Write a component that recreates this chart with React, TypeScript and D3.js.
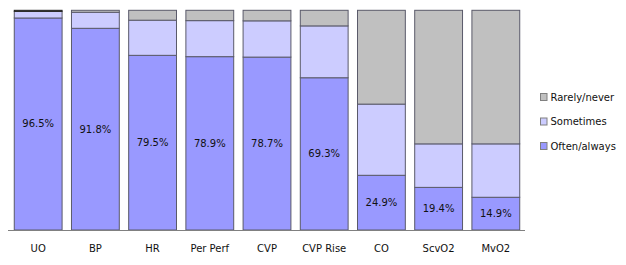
import React from "react";
import * as d3 from "d3";

const categories = ["UO", "BP", "HR", "Per Perf", "CVP", "CVP Rise", "CO", "ScvO2", "MvO2"];
const oftenAlways = [96.5, 91.8, 79.5, 78.9, 78.7, 69.3, 24.9, 19.4, 14.9];
const sometimes = [3.0, 7.3, 16.0, 16.4, 16.5, 23.6, 32.4, 19.8, 24.3];
const rarelyNever = [0.5, 0.9, 4.5, 4.7, 4.8, 7.1, 42.7, 60.8, 60.8];
const seriesNames = ["Often/always", "Sometimes", "Rarely/never"];
const seriesColors = ["#9999FF", "#CCCCFF", "#C0C0C0"];
const legendOrder = ["Rarely/never", "Sometimes", "Often/always"];

const W = 626;
const H = 265;
const FONT = "'DejaVu Sans', Verdana, sans-serif";

export default function App() {
  const x = d3
    .scaleBand<string>()
    .domain(categories)
    .range([9, 525])
    .paddingInner(0.164)
    .paddingOuter(0.092);
  const y = d3.scaleLinear().domain([0, 100]).range([230, 10.3]);

  const rows = categories.map((c, i) => ({
    cat: c,
    "Often/always": oftenAlways[i],
    Sometimes: sometimes[i],
    "Rarely/never": rarelyNever[i],
  }));
  const stack = d3.stack<any>().keys(seriesNames)(rows);
  const color = d3.scaleOrdinal<string, string>().domain(seriesNames).range(seriesColors);

  return (
    <div style={{ position: "absolute", left: 0, top: 0 }}>
      <svg width={W} height={H} style={{ display: "block", background: "#fff" }}>
        {stack.map((layer) => (
          <g key={layer.key} fill={color(layer.key)}>
            {layer.map((d, i) => (
              <rect
                key={i}
                x={x(categories[i])!}
                y={y(d[1])}
                width={x.bandwidth()}
                height={Math.max(0, y(d[0]) - y(d[1]))}
                stroke={layer.key === "Rarely/never" && i === 0 ? "#222" : "#5a5a6a"}
                strokeWidth={1}
              />
            ))}
          </g>
        ))}
        {stack[0].map((d, i) => (
          <text
            key={"lbl" + i}
            x={x(categories[i])! + x.bandwidth() / 2}
            y={(y(d[0]) + y(d[1])) / 2}
            textAnchor="middle"
            dominantBaseline="central"
            fontFamily={FONT}
            fontSize={10}
            fill="#111"
          >
            {oftenAlways[i].toFixed(1)}%
          </text>
        ))}
        <line x1={8} x2={525} y1={230.5} y2={230.5} stroke="#808080" strokeWidth={1} />
        {categories.map((c) => (
          <text
            key={"cat" + c}
            x={x(c)! + x.bandwidth() / 2}
            y={248}
            textAnchor="middle"
            dominantBaseline="central"
            fontFamily={FONT}
            fontSize={10}
            fill="#111"
          >
            {c}
          </text>
        ))}
        {legendOrder.map((name, i) => (
          <g key={"leg" + name} transform={`translate(540.5, ${93.5 + i * 24.5})`}>
            <rect width={6.5} height={7} fill={color(name)} stroke="#808080" strokeWidth={1} />
            <text
              x={10}
              y={3.5}
              dominantBaseline="central"
              fontFamily={FONT}
              fontSize={10}
              fill="#111"
            >
              {name}
            </text>
          </g>
        ))}
      </svg>
    </div>
  );
}
